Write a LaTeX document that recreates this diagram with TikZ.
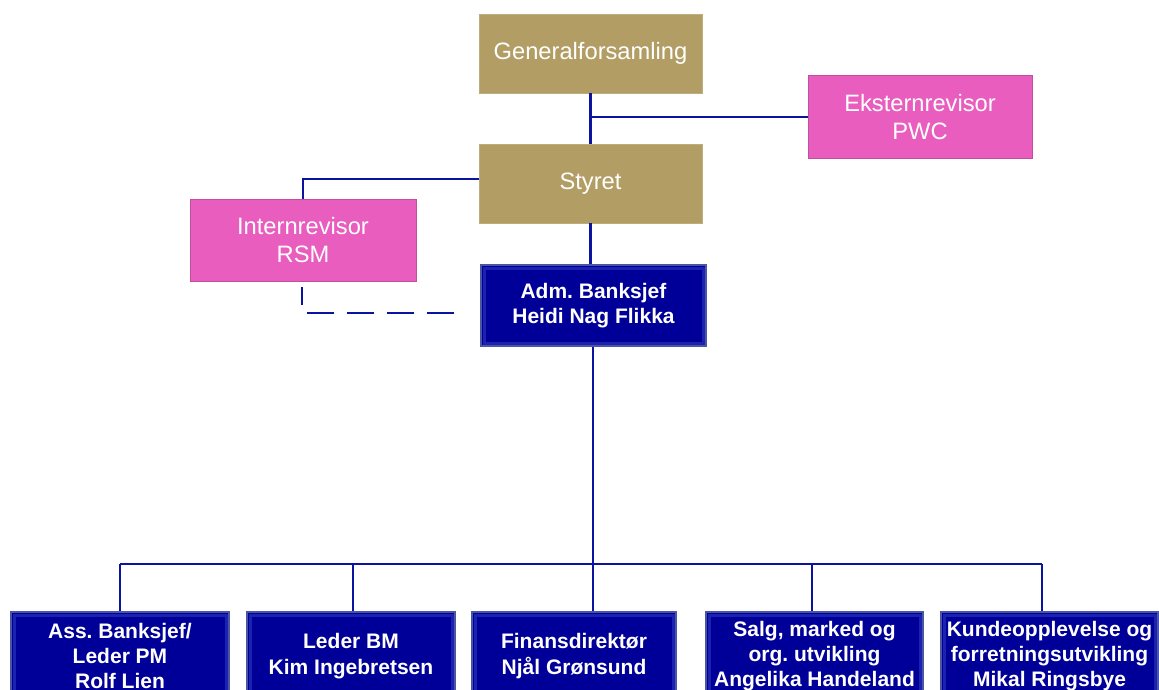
\documentclass[tikz,border=0pt]{standalone}
\usepackage{fontspec}
\setmainfont{Liberation Sans}
\definecolor{tan}{HTML}{B29D64}
\definecolor{pinkbox}{HTML}{E85DBD}
\definecolor{pinkedge}{HTML}{C04FA0}
\definecolor{navy}{HTML}{000099}
\definecolor{navyedge}{HTML}{4A55A5}
\definecolor{navyin}{HTML}{1C22B0}
\definecolor{linec}{HTML}{0A14A0}
\begin{document}
\frenchspacing
\begin{tikzpicture}[x=1pt,y=-1pt,
  base/.style={rectangle, align=center, inner sep=0pt, text=white},
  tanbox/.style={base, fill=tan, draw=tan!85!white, line width=0.8pt, minimum width=223pt, minimum height=79pt,
     font=\fontsize{23.7pt}{28pt}\selectfont},
  pinkb/.style={base, fill=pinkbox, draw=pinkedge, line width=1pt, minimum height=82pt,
     font=\fontsize{23.7pt}{28pt}\selectfont},
  bluebox/.style={base, fill=navy, draw=navyedge, line width=1.5pt, minimum height=#1,
     font=\fontsize{21pt}{25.3pt}\selectfont\bfseries,
     path picture={\draw[navyin, line width=3pt] ([shift={(3pt,-3pt)}]path picture bounding box.north west) rectangle ([shift={(-3pt,3pt)}]path picture bounding box.south east);}},
  conn/.style={draw=linec, line width=2.8pt},
  dconn/.style={draw=linec, line width=2.8pt, dash pattern=on 27pt off 13pt, dash phase=9pt}
]
\useasboundingbox (0,0) rectangle (1159,690);
\clip (0,0) rectangle (1159,690);
\fill[white] (0,0) rectangle (1159,690);

% nodes
\node[tanbox] (gen) at (590.5,53.5) {Generalforsamling};
\node[pinkb, minimum width=224pt] (eks) at (920,117) {Eksternrevisor\\PWC};
\node[tanbox] (sty) at (590.5,183.5) {Styret};
\node[pinkb, minimum width=226pt] (int) at (303,240) {Internrevisor\\RSM};
\node[bluebox=81pt, minimum width=225pt] (adm) at (593.5,305.5) {Adm. Banksjef\\Heidi Nag Flikka};

\node[bluebox=88pt, minimum width=218pt] (b1) at (120,656) {Ass. Banksjef/\\Leder PM\\Rolf Lien};
\node[bluebox=88pt, minimum width=208pt] (b2) at (351,656) {Leder BM\\Kim Ingebretsen};
\node[bluebox=88pt, minimum width=204pt] (b3) at (574,656) {Finansdirektør\\Njål Grønsund};
\node[bluebox=88pt, minimum width=217pt] (b4) at (814.5,656) {Salg, marked og\\org. utvikling\\Angelika Handeland};
\node[bluebox=88pt, minimum width=217pt] (b5) at (1049.5,656) {Kundeopplevelse og\\forretningsutvikling\\Mikal Ringsbye};

% coordinates
\coordinate (j1) at (591,117);
\coordinate (s1) at (479,179);
\coordinate (dstart) at (302,287);
\coordinate (dend) at (467,313);
\coordinate (bus1) at (120,564);
\coordinate (bus2) at (353,564);
\coordinate (bus3) at (593,564);
\coordinate (bus4) at (812,564);
\coordinate (bus5) at (1042,564);

% connectors
\draw[conn] (gen.south) -- (sty.north);
\draw[conn] (j1) -- (eks.west);
\draw[conn] (s1) -| (int.north);
\draw[dconn] (dstart) |- (dend);
\draw[conn] (sty.south) -- (sty.south |- adm.north);
\draw[conn] (adm.south -| bus3) -- (bus3);
\draw[conn] (bus1) -- (bus5);
\draw[conn] (bus1) -- (bus1 |- b1.north);
\draw[conn] (bus2) -- (bus2 |- b2.north);
\draw[conn] (bus3) -- (bus3 |- b3.north);
\draw[conn] (bus4) -- (bus4 |- b4.north);
\draw[conn] (bus5) -- (bus5 |- b5.north);
\end{tikzpicture}
\end{document}
